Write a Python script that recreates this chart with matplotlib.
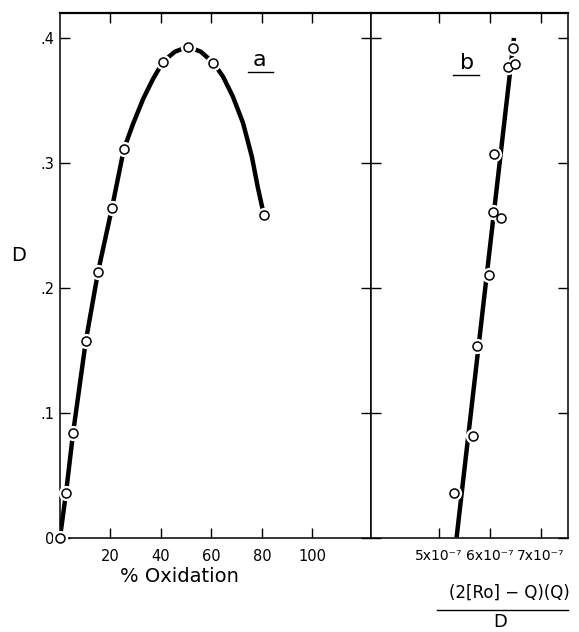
import matplotlib
matplotlib.use("Agg")
import matplotlib.pyplot as plt
from matplotlib.lines import Line2D

# Panel a: D vs % oxidation (measured points)
ox_pct = [0.0, 2.4, 5.2, 10.2, 15.1, 20.6, 25.3, 40.8, 50.7, 60.8, 80.8]
d_a = [0.0, 0.036, 0.084, 0.157, 0.213, 0.264, 0.311, 0.381, 0.393, 0.380, 0.258]

# Panel a: hand-drawn smooth curve
curve_x = [0.0, 2.4, 5.2, 10.2, 15.1, 20.6, 25.3, 28.9, 32.9, 36.8, 40.8, 45.5,
           50.7, 55.8, 60.8, 64.6, 68.5, 72.5, 76.0, 78.4, 80.8]
curve_y = [0.0, 0.036, 0.084, 0.157, 0.213, 0.264, 0.311, 0.331, 0.351, 0.367, 0.381, 0.389,
           0.393, 0.389, 0.380, 0.369, 0.353, 0.332, 0.305, 0.280, 0.258]

# Panel b: D vs (2[Ro]-Q)(Q)/D
frac_b = [5.29e-7, 5.67e-7, 5.74e-7, 5.98e-7, 6.06e-7, 6.22e-7, 6.08e-7, 6.35e-7, 6.49e-7, 6.45e-7]
d_b = [0.036, 0.081, 0.153, 0.210, 0.261, 0.256, 0.307, 0.377, 0.379, 0.392]

# Panel b straight line
line_b_x = [5.345e-7, 6.47e-7]
line_b_y = [0.0, 0.40]

y_ticks = [0.0, 0.1, 0.2, 0.3, 0.4]
y_labels = ["0", ".1", ".2", ".3", ".4"]
a_ticks = [20, 40, 60, 80, 100]
a_labels = ["20", "40", "60", "80", "100"]
b_ticks = [5e-7, 6e-7, 7e-7]
b_labels = ["5x10\u207b\u2077", "6x10\u207b\u2077", "7x10\u207b\u2077"]

plt.rcParams['font.family'] = ['DejaVu Sans']

W, H = 579, 632
fig = plt.figure(figsize=(W / 100, H / 100), dpi=100)

y0, y1 = 537.5, 13.0
bottom = 1 - y0 / H
height = (y0 - y1) / H
ax_a = fig.add_axes([60 / W, bottom, (371 - 60) / W, height])
ax_b = fig.add_axes([371 / W, bottom, (568 - 371) / W, height])

for ax in (ax_a, ax_b):
    ax.set_ylim(0, 0.42)
    ax.set_yticks(y_ticks)
    for s in ax.spines.values():
        s.set_linewidth(1.1)
    ax.spines['top'].set_linewidth(1.6)
    ax.tick_params(axis='x', direction='in', top=True, length=7, width=1, pad=8)
    ax.tick_params(axis='y', direction='in', left=True, right=True, length=7, width=1)

ax_a.set_xlim(0, 123.2)
ax_b.set_xlim(3.667e-7, 7.529e-7)

# panel a
ax_a.plot(curve_x, curve_y, color='black', lw=3.2, zorder=2, solid_capstyle='butt')
ax_a.plot(ox_pct, d_a, 'o', ms=11, color='white', mec='none', zorder=3, clip_on=False)
ax_a.plot(ox_pct, d_a, 'o', ms=6.5, mfc='white', mec='black', mew=1.1, zorder=4, clip_on=False)
ax_a.set_xticks(a_ticks)
ax_a.set_xticklabels(a_labels, fontsize=10.5)
ax_a.set_yticklabels(y_labels, fontsize=10.5)
ax_a.tick_params(axis='y', pad=4)
ax_a.text(79.2, 0.382, "a", fontsize=16, ha='center', va='center')
ax_a.plot([74.5, 84.4], [0.373, 0.373], color='black', lw=1.0)

# panel b
ax_b.plot(line_b_x, line_b_y, color='black', lw=3.2, zorder=2, solid_capstyle='butt')
ax_b.plot(frac_b, d_b, 'o', ms=11, color='white', mec='none', zorder=3)
ax_b.plot(frac_b, d_b, 'o', ms=6.5, mfc='white', mec='black', mew=1.1, zorder=4)
ax_b.set_xticks(b_ticks)
ax_b.set_xticklabels(b_labels, fontsize=10)
ax_b.tick_params(axis='y', labelleft=False)
ax_b.text(5.55e-7, 0.380, "b", fontsize=16, ha='center', va='center')
ax_b.plot([5.27e-7, 5.78e-7], [0.370, 0.370], color='black', lw=1.0)

# axis labels
fig.text(19 / W, 1 - 256 / H, "D", fontsize=14, ha='center', va='center')
fig.text(179 / W, 1 - 577 / H, "% Oxidation", fontsize=14, ha='center', va='center')
fig.text(509 / W, 1 - 593 / H, "(2[Ro] \u2212 Q)(Q)", fontsize=12, ha='center', va='center')
fig.add_artist(Line2D([437 / W, 568 / W], [1 - 610 / H, 1 - 610 / H],
                      transform=fig.transFigure, color='black', lw=1.0))
fig.text(500 / W, 1 - 622 / H, "D", fontsize=13, ha='center', va='center')

fig.savefig("out.png", dpi=100)
